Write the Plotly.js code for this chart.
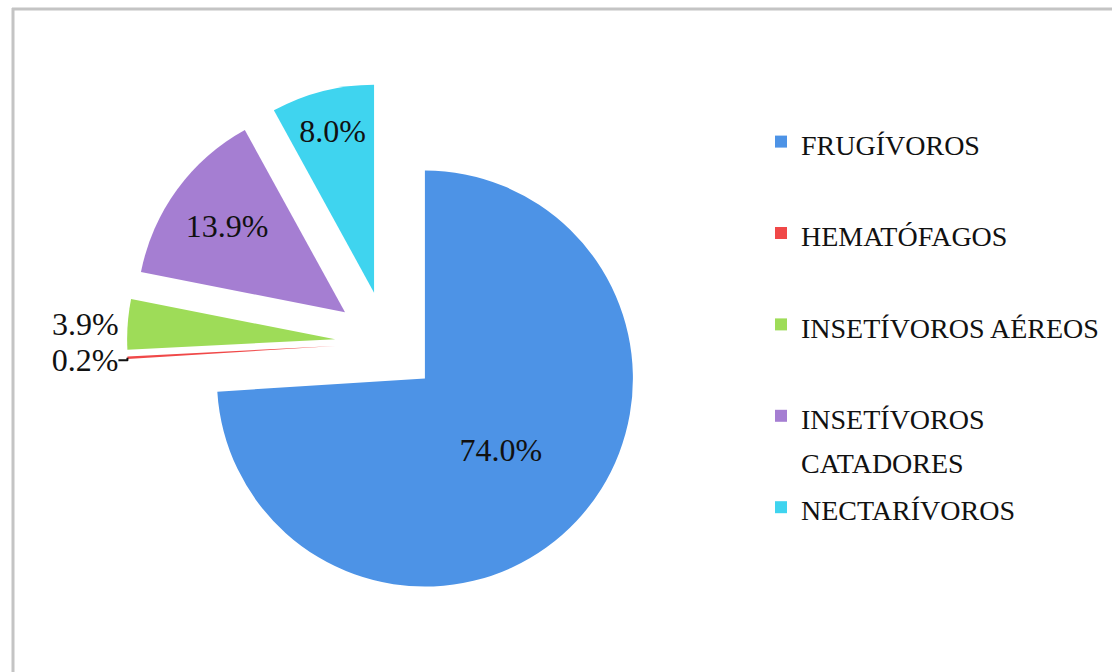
<!DOCTYPE html>
<html>
<head>
<meta charset="utf-8">
<script src="https://cdn.plot.ly/plotly-3.0.1.min.js"></script>
<style>
html,body{margin:0;padding:0;background:#fff;}
#chart{width:1112px;height:672px;}
</style>
</head>
<body>
<div id="chart"></div>
<script>
const categories = ['FRUGÍVOROS', 'HEMATÓFAGOS', 'INSETÍVOROS AÉREOS', 'INSETÍVOROS<br>CATADORES', 'NECTARÍVOROS'];
const values = [74.0, 0.2, 3.9, 13.9, 8.0];
const colors = ['#4d93e6', '#f04848', '#9edc58', '#a57ed2', '#3fd4ef'];
const textPositions = ['inside', 'outside', 'outside', 'inside', 'inside'];

const labelSize = 28;
const padFont = 34;
const legendLabels = categories.map(c => {
  const parts = c.split('<br>');
  const styled = parts.map(s => '<span style="font-size:' + labelSize + 'px">' + s + '</span>').join('<br>');
  return parts.length >= 2 ? styled : styled + '<br> ';
});

const trace = {
  type: 'pie',
  labels: legendLabels,
  values: values,
  sort: false,
  direction: 'clockwise',
  rotation: 0,
  pull: [0.25, 0.25, 0.25, 0.25, 0.25],
  marker: {colors: colors, line: {width: 0}},
  texttemplate: '%{percent:.1%}',
  textposition: textPositions,
  insidetextorientation: 'horizontal',
  textfont: {family: 'Liberation Serif, serif', size: 32, color: '#111'},
  outsidetextfont: {family: 'Liberation Serif, serif', size: 32, color: '#111'},
  hoverinfo: 'label+percent',
  domain: {x: [127/1112, 647/1112], y: [69/672, 589/672]}
};

const layout = {
  width: 1112,
  height: 672,
  margin: {l: 0, r: 0, t: 0, b: 0, pad: 0},
  paper_bgcolor: '#ffffff',
  plot_bgcolor: '#ffffff',
  showlegend: true,
  legend: {
    x: 761/1112, xanchor: 'left',
    y: 1 - 113/672, yanchor: 'top',
    valign: 'top',
    font: {family: 'Liberation Serif, serif', size: padFont, color: '#111'},
    bgcolor: 'rgba(0,0,0,0)'
  },
  shapes: [
    {type: 'line', xref: 'paper', yref: 'paper', x0: 13/1112, x1: 13/1112, y0: 0, y1: 1 - 8/672, line: {color: '#c4c4c4', width: 3}},
    {type: 'line', xref: 'paper', yref: 'paper', x0: 12/1112, x1: 1, y0: 1 - 9/672, y1: 1 - 9/672, line: {color: '#c4c4c4', width: 3}}
  ]
};

Plotly.newPlot('chart', [trace], layout, {displayModeBar: false, staticPlot: true});
</script>
</body>
</html>
